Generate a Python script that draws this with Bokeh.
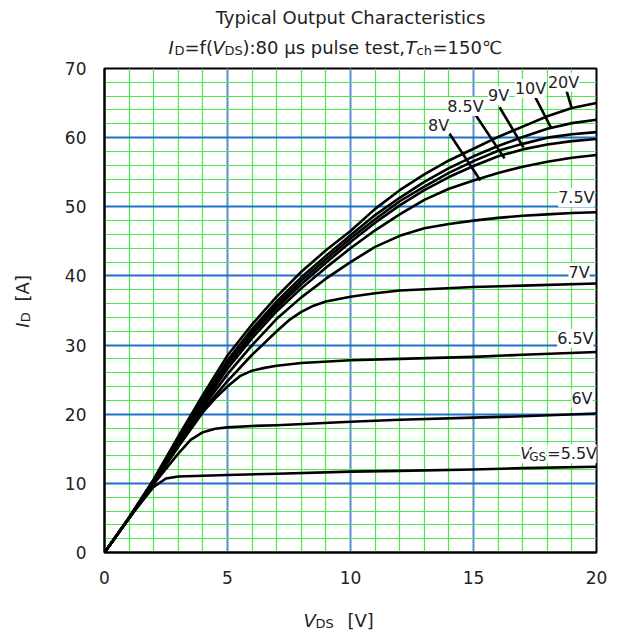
from math import pi
from bokeh.plotting import figure
from bokeh.models import Label, SingleIntervalTicker, Range1d
from bokeh.layouts import column, row
from bokeh.embed import file_html
from bokeh.resources import INLINE

FONT = "DejaVu Sans"
TXT = "#222222"

# ---------------- data ----------------
vds_55 = [0, 1, 2, 2.5, 3, 4, 5, 7, 10, 12, 15, 17, 20]
id_55 = [0, 5.0, 9.5, 10.7, 11.0, 11.1, 11.2, 11.4, 11.7, 11.8, 12.0, 12.2, 12.4]

vds_60 = [0, 1, 2, 3, 3.5, 4, 4.5, 5, 6, 7, 10, 12, 15, 17, 20]
id_60 = [0, 5.0, 9.9, 14.3, 16.3, 17.4, 17.9, 18.1, 18.3, 18.4, 18.9, 19.2, 19.5, 19.7, 20.1]

vds_65 = [0, 1, 2, 3, 4, 4.5, 5, 5.5, 6, 6.5, 7, 8, 10, 12, 15, 17, 20]
id_65 = [0, 5.0, 10.0, 15.3, 20.3, 22.3, 24.0, 25.5, 26.3, 26.7, 27.0, 27.4, 27.8, 28.0, 28.3, 28.6, 29.0]

vds_70 = [0, 1, 2, 3, 4, 5, 6, 7, 7.5, 8, 8.5, 9, 10, 11, 12, 15, 17, 20]
id_70 = [0, 5.0, 10.1, 15.6, 20.6, 24.8, 28.6, 32.0, 33.6, 34.8, 35.7, 36.3, 37.0, 37.5, 37.9, 38.4, 38.6, 38.9]

vds_hi = [0, 1, 2, 3, 4, 5, 6, 7, 8, 9, 10, 11, 12, 13, 14, 15, 16, 17, 18, 19, 20]
id_75 = [0, 5.0, 10.2, 15.8, 21.0, 25.8, 30.0, 33.8, 36.9, 39.6, 42.0, 44.2, 45.8, 46.9, 47.5, 48.0, 48.4, 48.7, 48.9, 49.1, 49.2]
id_80 = [0, 5.0, 10.2, 15.9, 21.4, 26.6, 31.0, 34.9, 38.2, 41.2, 44.0, 46.6, 48.9, 51.0, 52.6, 53.8, 54.9, 55.8, 56.5, 57.1, 57.5]
id_85 = [0, 5.0, 10.3, 16.1, 21.7, 27.1, 31.5, 35.4, 38.8, 41.9, 44.9, 47.7, 50.2, 52.4, 54.3, 55.9, 57.3, 58.3, 59.0, 59.5, 59.8]
id_90 = [0, 5.0, 10.3, 16.2, 21.9, 27.4, 31.9, 35.8, 39.3, 42.4, 45.4, 48.2, 50.8, 52.9, 54.9, 56.6, 58.1, 59.1, 60.0, 60.5, 60.8]
id_100 = [0, 5.0, 10.4, 16.4, 22.2, 27.8, 32.3, 36.3, 39.8, 42.9, 45.9, 48.8, 51.3, 53.6, 55.6, 57.3, 58.8, 60.1, 61.3, 62.1, 62.6]
id_200 = [0, 5.1, 10.6, 16.8, 22.8, 28.5, 33.0, 37.0, 40.6, 43.7, 46.5, 49.7, 52.4, 54.7, 56.7, 58.4, 60.1, 61.6, 63.1, 64.3, 65.0]

x_tick_interval = 5
y_tick_interval = 10

# labels with leader lines (upper curves)
top_names = ["20V", "10V", "9V", "8.5V", "8V"]
top_lx = [18.66, 17.32, 16.02, 14.67, 13.58]
top_ly = [68.0, 67.1, 66.1, 64.5, 61.8]
lead_x0 = [18.78, 17.52, 16.06, 15.08, 14.02]
lead_y0 = [66.8, 65.8, 64.4, 63.3, 60.6]
lead_x1 = [18.98, 18.17, 17.03, 16.26, 15.28]
lead_y1 = [64.4, 61.3, 58.6, 57.0, 53.8]

# labels at the right edge
right_names = ["7.5V", "7V", "6.5V", "6V"]
right_lx = [19.92, 19.72, 19.88, 19.84]
right_ly = [51.3, 40.5, 31.0, 22.3]

# ---------------- layout sizes ----------------
TOTAL_W = 613
TITLE_H = 60
YLAB_W = 40
MAIN_H = 532
XLAB_H = 40


def text_fig(w, h):
    f = figure(width=w, height=h, output_backend="svg", toolbar_location=None, title=None,
               x_range=Range1d(0, w), y_range=Range1d(0, h), min_border=0,
               x_axis_location=None, y_axis_location=None)
    f.outline_line_color = None
    f.background_fill_color = "white"
    f.border_fill_color = "white"
    f.grid.visible = False
    return f


def frag(f, x, y, text, size="18px", style="normal", angle=0.0, xo=0, yo=0, bg=None, align="left"):
    f.add_layout(Label(x=x, y=y, text=text, text_align=align, text_baseline="middle",
                       text_font=FONT, text_font_size=size, text_font_style=style,
                       text_color=TXT, angle=angle, x_offset=xo, y_offset=yo,
                       background_fill_color=bg))


# ---------------- main chart ----------------
p = figure(width=TOTAL_W - YLAB_W, height=MAIN_H, output_backend="svg", toolbar_location=None,
           title=None, x_range=Range1d(0, 20), y_range=Range1d(0, 70),
           min_border_left=64, min_border_right=17, min_border_top=8, min_border_bottom=40)
p.background_fill_color = "white"
p.border_fill_color = "white"
p.outline_line_color = "black"
p.outline_line_width = 2

p.xaxis.ticker = SingleIntervalTicker(interval=x_tick_interval, num_minor_ticks=5)
p.yaxis.ticker = SingleIntervalTicker(interval=y_tick_interval, num_minor_ticks=5)

for ax in (p.xaxis[0], p.yaxis[0]):
    ax.axis_line_color = "black"
    ax.axis_line_width = 2
    ax.major_tick_line_color = None
    ax.minor_tick_line_color = None
    ax.major_label_text_font = FONT
    ax.major_label_text_font_size = "17px"
    ax.major_label_text_color = TXT
    ax.major_label_standoff = 12

p.xgrid.grid_line_color = "#5b8fd2"
p.xgrid.grid_line_width = 2
p.ygrid.grid_line_color = "#1f70c8"
p.ygrid.grid_line_width = 2
for g in (p.xgrid[0], p.ygrid[0]):
    g.minor_grid_line_color = "#4ee84e"
    g.minor_grid_line_width = 1.2

series = [(vds_55, id_55), (vds_60, id_60), (vds_65, id_65), (vds_70, id_70),
          (vds_hi, id_75), (vds_hi, id_80), (vds_hi, id_85), (vds_hi, id_90),
          (vds_hi, id_100), (vds_hi, id_200)]
for xs, ys in series:
    p.line(xs, ys, line_color="black", line_width=2.6, line_join="round")

p.segment(lead_x0, lead_y0, lead_x1, lead_y1, line_color="black", line_width=2.6)

for name, lx, ly in zip(top_names, top_lx, top_ly):
    frag(p, lx, ly, name, "16px", bg="white", align="center")
for name, lx, ly in zip(right_names, right_lx, right_ly):
    frag(p, lx, ly, name, "16px", bg="white", align="right")

vgs_x, vgs_y = 16.9, 14.3
frag(p, vgs_x, vgs_y, "V", "16px", "italic", bg="white")
frag(p, vgs_x, vgs_y, "GS", "12px", xo=9, yo=-3, bg="white")
frag(p, vgs_x, vgs_y, "=5.5V", "16px", xo=27, bg="white")

# ---------------- title ----------------
t = text_fig(TOTAL_W, TITLE_H)
frag(t, 350, TITLE_H - 17, "Typical Output Characteristics", align="center")
sy = TITLE_H - 47
frag(t, 168, sy, "I", style="italic")
frag(t, 174, sy, "D", "13px", yo=-3)
frag(t, 184, sy, "=f(")
frag(t, 212, sy, "V", style="italic")
frag(t, 224, sy, "DS", "13px", yo=-3)
frag(t, 242, sy, "):80 \u03bcs pulse test,")
frag(t, 405, sy, "T", style="italic")
frag(t, 416, sy, "ch", "13px", yo=-3)
frag(t, 432, sy, "=150\u2103")

# ---------------- y label ----------------
yl = text_fig(YLAB_W, MAIN_H)
ybase = TITLE_H + MAIN_H
frag(yl, 22, ybase - 345, "I", style="italic", angle=pi / 2)
frag(yl, 25, ybase - 339, "D", "13px", angle=pi / 2)
frag(yl, 22, ybase - 316, "[A]", angle=pi / 2)

# ---------------- x label ----------------
xl = text_fig(TOTAL_W, XLAB_H)
xy = XLAB_H - (620 - (TITLE_H + MAIN_H))
frag(xl, 303, xy, "V", style="italic")
frag(xl, 315, xy, "DS", "13px", yo=-3)
frag(xl, 347, xy, "[V]")

layout = column(t, row(yl, p), xl)
open("out.html", "w").write(file_html(layout, INLINE))
